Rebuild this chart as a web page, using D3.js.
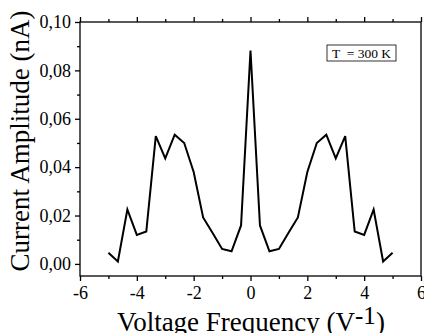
<!DOCTYPE html>
<html><head><meta charset="utf-8">
<script src="https://cdn.jsdelivr.net/npm/d3@7"></script>
<style>body{margin:0;background:#fff}svg{display:block}svg text{font-family:"Liberation Serif","Times New Roman",serif}</style>
</head><body>
<svg id="c" width="424" height="333"></svg>
<script>
const xValues = [-5, -4.667, -4.333, -4, -3.667, -3.333, -3, -2.667, -2.333, -2, -1.667, -1.333, -1, -0.667, -0.333, 0,
  0.333, 0.667, 1, 1.333, 1.667, 2, 2.333, 2.667, 3, 3.333, 3.667, 4, 4.333, 4.667, 5];
const amplitude = [0.0046, 0.0010, 0.0225, 0.0120, 0.0134, 0.0528, 0.0436, 0.0534, 0.0500, 0.0380, 0.0192, 0.0128, 0.0062, 0.0052, 0.0159, 0.0882,
  0.0159, 0.0052, 0.0062, 0.0128, 0.0192, 0.0380, 0.0500, 0.0534, 0.0436, 0.0528, 0.0134, 0.0120, 0.0225, 0.0010, 0.0046];
const xTicks = [-6, -4, -2, 0, 2, 4, 6];
const yTicks = [0, 0.02, 0.04, 0.06, 0.08, 0.10];
const xLabel = "Voltage Frequency (V";
const yLabel = "Current Amplitude (nA)";
const legendText = "T  = 300 K";

const svg = d3.select("#c");
const L = 80, R = 421, T = 22, B = 276;
const x = d3.scaleLinear().domain([-6, 6]).range([L, R]);
const y = d3.scaleLinear().domain([-0.005, 0.10]).range([B, T]);
const fmt = d => d3.format(".2f")(d).replace(".", ",");

// frame
svg.append("rect").attr("x", L).attr("y", T).attr("width", R - L).attr("height", B - T)
  .attr("fill", "none").attr("stroke", "#000").attr("stroke-width", 1.3);

// bottom axis
const gx = svg.append("g").attr("transform", `translate(0,${B})`)
  .call(d3.axisBottom(x).tickValues(xTicks).tickSize(5).tickFormat(d => String(d)));
gx.selectAll("text").attr("font-size", 18).attr("dy", "0.82em");
svg.append("g").attr("transform", `translate(0,${B})`)
  .call(d3.axisBottom(x).tickValues([-5, -3, -1, 1, 3, 5]).tickSize(3).tickFormat(""));
// top axis (ticks only)
svg.append("g").attr("transform", `translate(0,${T})`)
  .call(d3.axisTop(x).tickValues(xTicks).tickSize(5).tickFormat(""));
svg.append("g").attr("transform", `translate(0,${T})`)
  .call(d3.axisTop(x).tickValues([-5, -3, -1, 1, 3, 5]).tickSize(3).tickFormat(""));
// left axis
const gy = svg.append("g").attr("transform", `translate(${L},0)`)
  .call(d3.axisLeft(y).tickValues(yTicks).tickSize(5).tickFormat(fmt));
gy.selectAll("text").attr("font-size", 18).attr("dx", "-0.05em");
svg.append("g").attr("transform", `translate(${L},0)`)
  .call(d3.axisLeft(y).tickValues([0.01, 0.03, 0.05, 0.07, 0.09]).tickSize(3).tickFormat(""));
svg.selectAll("g").attr("font-family", null);
svg.selectAll(".domain").remove();
svg.selectAll(".tick line").attr("stroke", "#000").attr("stroke-width", 1.3);

// line
const line = d3.line().x((d, i) => x(xValues[i])).y(d => y(d));
svg.append("path").datum(amplitude).attr("d", line)
  .attr("fill", "none").attr("stroke", "#000").attr("stroke-width", 2).attr("stroke-linejoin", "miter");

// legend
svg.append("rect").attr("x", 327).attr("y", 45).attr("width", 69).attr("height", 16)
  .attr("fill", "#fff").attr("stroke", "#000").attr("stroke-width", 0.8);
svg.append("text").attr("x", 361.5).attr("y", 58).attr("text-anchor", "middle")
  .style("white-space", "pre").attr("font-size", 13.5).text(legendText);

// axis titles
const xt = svg.append("text").attr("x", 251).attr("y", 331).attr("text-anchor", "middle")
  .attr("font-size", 27);
xt.append("tspan").text(xLabel);
xt.append("tspan").attr("dy", -7.5).attr("font-size", 25).text("-1");
xt.append("tspan").attr("dy", 7.5).text(")");

svg.append("text").attr("transform", "translate(29,141) rotate(-90)").attr("text-anchor", "middle")
  .attr("font-size", 27).text(yLabel);
</script>
</body></html>
